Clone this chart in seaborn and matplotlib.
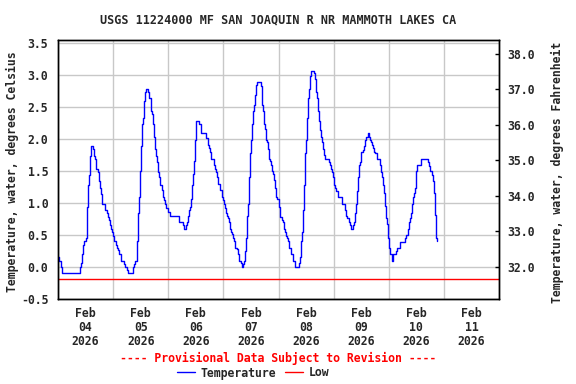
"""
USGS water temperature chart, MF San Joaquin R nr Mammoth Lakes CA.
Celsius on the left axis, Fahrenheit mirrored on the right.
"""

import pandas as pd
import matplotlib
matplotlib.use("Agg")
import matplotlib.pyplot as plt
import matplotlib.dates as mdates
from matplotlib.ticker import FormatStrFormatter
import seaborn as sns

# Data
TITLE = "USGS 11224000 MF SAN JOAQUIN R NR MAMMOTH LAKES CA"
NOTE = "---- Provisional Data Subject to Revision ----"
START = "2026-02-04 00:00"
END = "2026-02-12 00:00"

# hours since Feb 04 00:00
HOURS = [
    0.0, 0.58, 1.16, 1.75, 9.6, 10.18, 10.62, 11.05, 11.49, 12.07, 12.51, 12.8,
    13.24, 13.53, 13.96, 14.25, 15.27, 15.71, 16.15, 16.58, 17.45, 17.89, 18.18,
    18.62, 19.05, 20.36, 21.24, 21.82, 22.25, 22.69, 23.27, 23.71,
    24.15, 24.44, 25.45, 25.89, 26.33, 26.76, 27.64, 28.8, 29.38, 30.25, 30.55,
    32.87, 33.16, 33.6, 34.18, 34.47, 34.91, 35.2, 35.64, 36.07, 36.51, 36.95,
    37.53, 37.96, 38.4, 39.27, 39.71, 40.29, 40.73, 41.16, 41.75, 42.18, 42.62,
    43.05, 43.49, 43.93, 44.51, 45.38, 45.82, 46.25, 46.69, 47.13, 47.71,
    48.87, 52.8, 54.55, 54.98, 55.85, 56.29, 56.73, 57.16, 57.6, 58.04, 58.47,
    58.91, 59.35, 59.78, 60.22, 61.53, 62.25, 64.58, 65.16, 65.6, 66.18, 66.62,
    68.07, 68.51, 68.95, 69.38, 69.82, 70.69, 71.27, 71.71,
    72.15, 72.58, 73.02, 73.45, 73.89, 74.33, 74.91, 75.35, 75.78, 76.36, 76.8,
    77.24, 77.96, 78.4, 78.84, 79.56, 80.15, 80.58, 81.02, 81.45, 81.89, 82.33,
    82.76, 83.2, 83.64, 84.07, 84.51, 84.95, 85.38, 85.82, 86.25, 86.69, 88.44,
    88.87, 89.31, 89.75, 90.18, 90.62, 91.05, 91.49, 91.93, 92.36, 92.8, 93.24,
    93.67, 94.11, 94.55, 94.98, 95.42,
    96.0, 96.44, 96.87, 97.31, 97.75, 98.18, 98.62, 99.05, 99.49, 99.93, 100.36,
    101.24, 102.11, 102.98, 104.73, 105.16, 105.6, 106.04, 106.47, 106.91,
    107.35, 107.78, 108.22, 108.65, 109.09, 109.53, 109.96, 111.27, 111.71,
    112.15, 112.73, 113.16, 113.6, 114.04, 114.47, 114.91, 115.35, 115.78,
    116.22, 117.96, 118.4, 118.84, 119.27, 119.71,
    120.15, 120.58, 121.02, 121.89, 123.64, 124.95, 125.38, 125.82, 126.69,
    127.13, 127.56, 128.44, 128.87, 129.31, 129.75, 130.18, 130.62, 131.05,
    131.49, 131.93, 132.8, 133.24, 133.67, 134.11, 134.84, 135.27, 135.71,
    136.15, 136.58, 137.02, 137.45, 137.89, 138.76, 140.07, 140.51, 140.95,
    141.38, 141.82, 142.25, 142.98, 143.42, 143.71,
    144.15, 144.58, 145.31, 145.6, 145.89, 147.05, 147.49, 148.8, 150.98,
    151.42, 152.29, 152.73, 153.16, 153.6, 154.04, 154.47, 154.91, 155.35,
    155.78, 156.22, 157.96, 161.02, 161.45, 161.89, 162.76, 163.2, 163.64,
    164.07, 164.51, 164.8, 165.1,
]

TEMP_C = [
    0.15, 0.09, 0.0, -0.09, 0.0, 0.06, 0.2, 0.35, 0.4, 0.45, 0.65, 0.94,
    1.28, 1.44, 1.73, 1.89, 1.84, 1.73, 1.69, 1.54, 1.49, 1.34, 1.23,
    1.14, 0.99, 0.89, 0.84, 0.79, 0.73, 0.65, 0.59, 0.54,
    0.49, 0.40, 0.34, 0.29, 0.26, 0.2, 0.1, 0.04, 0.0, -0.05, -0.09,
    0.0, 0.05, 0.1, 0.2, 0.4, 0.85, 1.1, 1.5, 1.89, 2.23, 2.33,
    2.59, 2.74, 2.78, 2.74, 2.64, 2.44, 2.39, 2.23, 2.04, 1.84, 1.73,
    1.65, 1.49, 1.40, 1.29, 1.20, 1.10, 1.05, 0.99, 0.93, 0.86,
    0.80, 0.71, 0.65, 0.59, 0.65, 0.71, 0.80, 0.89, 0.94, 1.07, 1.29,
    1.45, 1.66, 1.98, 2.28, 2.24, 2.10, 2.02, 1.91, 1.86, 1.80, 1.69,
    1.59, 1.54, 1.49, 1.41, 1.30, 1.20, 1.10, 1.05,
    0.99, 0.93, 0.85, 0.80, 0.76, 0.71, 0.60, 0.55, 0.51, 0.45, 0.40,
    0.30, 0.28, 0.20, 0.10, 0.06, 0.0, 0.04, 0.10, 0.25, 0.45, 0.80,
    0.99, 1.40, 1.79, 1.98, 2.24, 2.44, 2.54, 2.69, 2.84, 2.89, 2.83,
    2.54, 2.44, 2.24, 2.16, 1.98, 1.96, 1.85, 1.69, 1.66, 1.59, 1.50,
    1.45, 1.36, 1.24, 1.10, 1.06,
    0.94, 0.85, 0.79, 0.73, 0.70, 0.59, 0.55, 0.49, 0.45, 0.40, 0.29,
    0.20, 0.10, 0.0, 0.06, 0.15, 0.40, 0.55, 0.89, 1.28,
    1.79, 1.98, 2.33, 2.64, 2.78, 2.98, 3.07, 3.04, 2.94,
    2.74, 2.64, 2.44, 2.28, 2.14, 2.03, 1.95, 1.84, 1.75,
    1.69, 1.65, 1.59, 1.54, 1.49, 1.40,
    1.29, 1.24, 1.19, 1.10, 0.99, 0.89, 0.80, 0.76, 0.70,
    0.65, 0.59, 0.65, 0.71, 0.84, 0.99, 1.19, 1.40, 1.59,
    1.65, 1.80, 1.83, 1.90, 1.98, 2.04, 2.10, 2.04, 1.98,
    1.96, 1.91, 1.86, 1.80, 1.79, 1.69, 1.59, 1.49, 1.40,
    1.29, 1.15, 0.95, 0.76, 0.67, 0.45,
    0.29, 0.20, 0.16, 0.10, 0.20, 0.25, 0.29, 0.39, 0.45,
    0.50, 0.59, 0.70, 0.76, 0.85, 0.99, 1.10, 1.15, 1.24,
    1.50, 1.59, 1.69, 1.65, 1.58, 1.50, 1.44, 1.34, 1.15,
    0.81, 0.45, 0.40, 0.40,
]

LOW_C = -0.18
Y_LIM_C = (-0.5, 3.55)
Y_TICKS_C = [-0.5, 0.0, 0.5, 1.0, 1.5, 2.0, 2.5, 3.0, 3.5]
Y_TICKS_F = [32.0, 33.0, 34.0, 35.0, 36.0, 37.0, 38.0]

BLUE = "#0000ff"
RED = "#ff0000"
GRID = "#c8c8c8"
FS = 8.3


def c_to_f(c):
    return c * 9.0 / 5.0 + 32.0


sns.set_theme(style="white")
plt.rcParams["font.family"] = ["DejaVu Sans Mono"]
plt.rcParams["font.weight"] = "bold"
plt.rcParams["font.size"] = FS

df = pd.DataFrame({
    "time": pd.Timestamp(START) + pd.to_timedelta(HOURS, unit="h"),
    "temp": TEMP_C,
})

fig = plt.figure(figsize=(5.76, 3.84), dpi=100)
fig.patch.set_facecolor("white")
W, H = 576, 384
ax = fig.add_axes([58 / W, 1 - 299 / H, 441 / W, 259 / H])

sns.lineplot(data=df, x="time", y="temp", ax=ax, color=BLUE, lw=1.0,
             drawstyle="steps-post", estimator=None, label="Temperature")
ax.axhline(LOW_C, color=RED, lw=1.0, label="Low")

ax.set_xlim(pd.Timestamp(START), pd.Timestamp(END))
ax.set_ylim(*Y_LIM_C)
ax.set_yticks(Y_TICKS_C)
ax.yaxis.set_major_formatter(FormatStrFormatter("%.1f"))

ax.xaxis.set_major_locator(mdates.HourLocator(byhour=[12]))
ax.xaxis.set_major_formatter(mdates.DateFormatter("%b\n%d\n%Y"))
ax.xaxis.set_minor_locator(mdates.DayLocator())
ax.grid(which="minor", axis="x", color=GRID, lw=1.0)
ax.grid(which="major", axis="y", color=GRID, lw=1.0)
ax.grid(which="major", axis="x", visible=False)
ax.set_axisbelow(True)

ax.tick_params(axis="x", which="both", length=0, pad=6, labelsize=FS)
ax.tick_params(axis="y", length=0, pad=7, labelsize=FS)
for lab in ax.get_xticklabels():
    lab.set_linespacing(1.1)
ax.set_xlabel("")
ax.set_ylabel("")

for sp in ax.spines.values():
    sp.set_color("black")
    sp.set_linewidth(1.0)

# Fahrenheit twin axis
ax2 = ax.twinx()
ax2.set_ylim(c_to_f(Y_LIM_C[0]), c_to_f(Y_LIM_C[1]))
ax2.set_yticks(Y_TICKS_F)
ax2.yaxis.set_major_formatter(FormatStrFormatter("%.1f"))
ax2.tick_params(axis="y", direction="in", length=3, width=1, color="black",
                pad=6, labelsize=FS)
ax2.grid(False)
for sp in ax2.spines.values():
    sp.set_color("black")
    sp.set_linewidth(1.0)

# Texts
fig.text(278 / W, 1 - 19.5 / H, TITLE, ha="center", va="center", fontsize=8.5)
fig.text(12 / W, 1 - 172 / H, "Temperature, water, degrees Celsius",
         rotation=90, ha="center", va="center", fontsize=FS)
fig.text(557 / W, 1 - 172 / H, "Temperature, water, degrees Fahrenheit",
         rotation=90, ha="center", va="center", fontsize=FS)
fig.text(278 / W, 1 - 358 / H, NOTE, color=RED, ha="center", va="center",
         fontsize=FS)

handles, labels = ax.get_legend_handles_labels()
if ax.get_legend() is not None:
    ax.get_legend().remove()
fig.legend(handles, labels, loc="center", bbox_to_anchor=(253 / W, 1 - 373 / H),
           ncol=2, frameon=False, fontsize=FS, handlelength=1.6,
           handletextpad=0.5, columnspacing=0.7, borderpad=0, borderaxespad=0)

fig.savefig("out.png", dpi=100, facecolor="white")
